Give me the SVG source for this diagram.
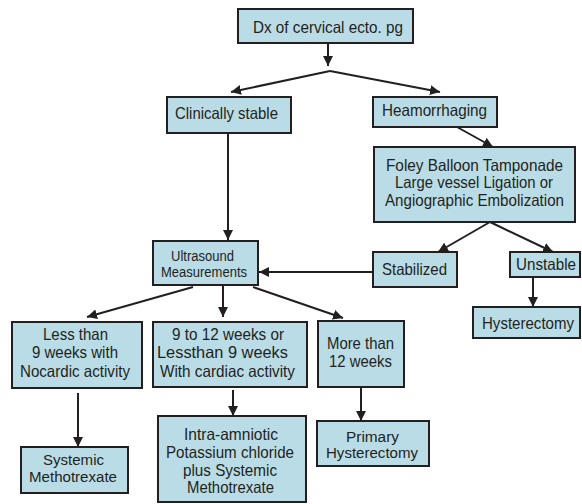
<svg xmlns="http://www.w3.org/2000/svg" width="582" height="504" viewBox="0 0 582 504">
<style>
.b{fill:#badce6;stroke:#231f20;stroke-width:2}
text{font-family:"Liberation Sans",Arial,sans-serif;font-size:16.5px;fill:#231f20;text-anchor:middle}
.s{font-size:15.5px}
.c line{stroke:#231f20;stroke-width:2;fill:none}
.a{marker-end:url(#ah)}
</style>
<defs>
<marker id="ah" markerUnits="userSpaceOnUse" markerWidth="11" markerHeight="10" refX="10" refY="5" orient="auto" viewBox="0 0 11 10">
<path d="M0,0 L10,5 L0,10 z" fill="#231f20"/>
</marker>
</defs>
<rect width="582" height="504" fill="#ffffff"/>
<g id="connectors" class="c">
<line class="a" x1="328" y1="43" x2="328" y2="66"/>
<line class="a" x1="330" y1="71" x2="231" y2="92"/>
<line class="a" x1="330" y1="71" x2="440" y2="92"/>
<line class="a" x1="457" y1="127" x2="493" y2="147"/>
<line class="a" x1="228" y1="133" x2="228" y2="240"/>
<line class="a" x1="490" y1="222" x2="438" y2="252"/>
<line class="a" x1="490" y1="222" x2="553" y2="252"/>
<line class="a" x1="533" y1="277" x2="533" y2="307"/>
<line class="a" x1="373" y1="272" x2="259" y2="272"/>
<line class="a" x1="193" y1="287" x2="87" y2="317"/>
<line class="a" x1="223" y1="285" x2="223" y2="317"/>
<line class="a" x1="253" y1="287" x2="343" y2="318"/>
<line class="a" x1="78" y1="393" x2="78" y2="447"/>
<line class="a" x1="233" y1="390" x2="233" y2="416"/>
<line class="a" x1="361" y1="387" x2="361" y2="421"/>
</g>
<g id="dx"><rect class="b" x="238" y="9" width="175" height="34"/><text x="328" y="33" textLength="150" lengthAdjust="spacingAndGlyphs">Dx of cervical ecto. pg</text></g>
<g id="clinically"><rect class="b" x="167" y="97" width="124" height="36"/><text x="226.5" y="119" textLength="103" lengthAdjust="spacingAndGlyphs">Clinically stable</text></g>
<g id="heam"><rect class="b" x="373" y="97" width="124" height="30"/><text x="434.5" y="116" textLength="105" lengthAdjust="spacingAndGlyphs">Heamorrhaging</text></g>
<g id="foley"><rect class="b" x="374" y="147" width="201" height="75"/>
<text x="474.5" y="171" textLength="177" lengthAdjust="spacingAndGlyphs">Foley Balloon Tamponade</text>
<text x="474" y="188" textLength="158" lengthAdjust="spacingAndGlyphs">Large vessel Ligation or</text>
<text x="474.5" y="206" textLength="179" lengthAdjust="spacingAndGlyphs">Angiographic Embolization</text></g>
<g id="ultrasound"><rect class="b" x="153" y="241" width="105" height="44"/>
<text class="s" x="202.5" y="261" textLength="63" lengthAdjust="spacingAndGlyphs">Ultrasound</text>
<text class="s" x="204" y="277" textLength="86" lengthAdjust="spacingAndGlyphs">Measurements</text></g>
<g id="stabilized"><rect class="b" x="373" y="252" width="84" height="35"/><text x="414.5" y="275" textLength="65" lengthAdjust="spacingAndGlyphs">Stabilized</text></g>
<g id="unstable"><rect class="b" x="510" y="252" width="70" height="25"/><text x="546" y="270" textLength="60" lengthAdjust="spacingAndGlyphs">Unstable</text></g>
<g id="hysterectomy"><rect class="b" x="473" y="307" width="107" height="31"/><text x="528" y="329" textLength="92" lengthAdjust="spacingAndGlyphs">Hysterectomy</text></g>
<g id="less"><rect class="b" x="12" y="322" width="130" height="66"/>
<text x="75.5" y="340" textLength="65" lengthAdjust="spacingAndGlyphs">Less than</text>
<text x="75" y="358" textLength="86" lengthAdjust="spacingAndGlyphs">9 weeks with</text>
<text x="75" y="377" textLength="110" lengthAdjust="spacingAndGlyphs">Nocardic activity</text></g>
<g id="ninetotwelve"><rect class="b" x="153" y="322" width="154" height="65"/>
<text x="228" y="340" textLength="112" lengthAdjust="spacingAndGlyphs">9 to 12 weeks or</text>
<text x="222.5" y="358" textLength="131" lengthAdjust="spacingAndGlyphs">Lessthan 9 weeks</text>
<text x="227.5" y="377" textLength="135" lengthAdjust="spacingAndGlyphs">With cardiac activity</text></g>
<g id="more"><rect class="b" x="318" y="321" width="86" height="66"/>
<text x="360.5" y="349" textLength="67" lengthAdjust="spacingAndGlyphs">More than</text>
<text x="360.5" y="367" textLength="63" lengthAdjust="spacingAndGlyphs">12 weeks</text></g>
<g id="systemic"><rect class="b" x="21" y="447" width="107" height="46"/>
<text class="s" x="73.5" y="465" textLength="61" lengthAdjust="spacingAndGlyphs">Systemic</text>
<text class="s" x="73" y="482" textLength="88" lengthAdjust="spacingAndGlyphs">Methotrexate</text></g>
<g id="intra"><rect class="b" x="158" y="416" width="148" height="86"/>
<text x="231" y="440" textLength="94" lengthAdjust="spacingAndGlyphs">Intra-amniotic</text>
<text x="230" y="458" textLength="128" lengthAdjust="spacingAndGlyphs">Potassium chloride</text>
<text x="230" y="476" textLength="94" lengthAdjust="spacingAndGlyphs">plus Systemic</text>
<text x="230.5" y="493" textLength="87" lengthAdjust="spacingAndGlyphs">Methotrexate</text></g>
<g id="primary"><rect class="b" x="317" y="421" width="112" height="45"/>
<text class="s" x="372.5" y="442" textLength="53" lengthAdjust="spacingAndGlyphs">Primary</text>
<text class="s" x="372" y="458" textLength="92" lengthAdjust="spacingAndGlyphs">Hysterectomy</text></g>
</svg>
